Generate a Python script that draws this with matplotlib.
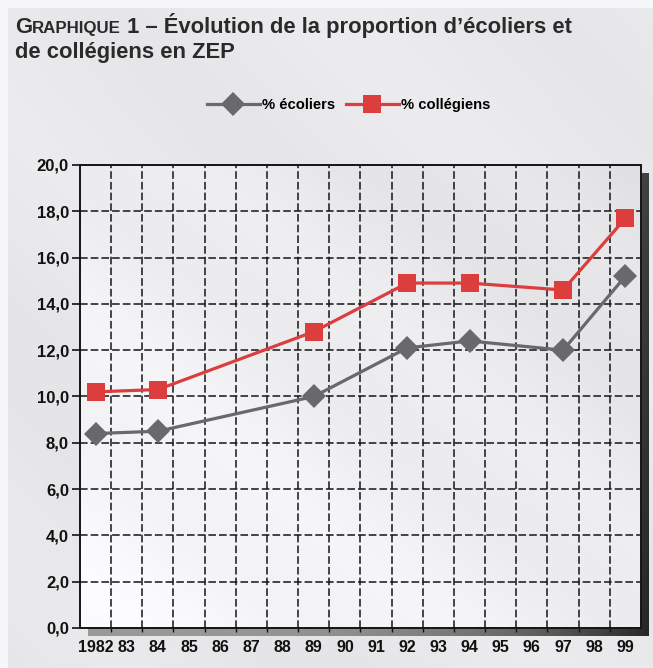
import matplotlib
matplotlib.use('Agg')
import matplotlib.pyplot as plt
import numpy as np

plt.rcParams['font.family'] = ['Liberation Sans', 'DejaVu Sans']

# data
year_labels = ['1982', '83', '84', '85', '86', '87', '88', '89', '90',
               '91', '92', '93', '94', '95', '96', '97', '98', '99']
survey_years = ['1982', '84', '89', '92', '94', '97', '99']
pct_ecoliers = [8.4, 8.5, 10.0, 12.1, 12.4, 12.0, 15.2]
pct_collegiens = [10.2, 10.3, 12.8, 14.9, 14.9, 14.6, 17.7]
y_ticks = [0, 2, 4, 6, 8, 10, 12, 14, 16, 18, 20]
series_names = ['% écoliers', '% collégiens']

GREY = '#68686d'
RED = '#dc3e3e'
INK = '#2a2a2a'

W, H = 653, 668
fig = plt.figure(figsize=(W / 100, H / 100), dpi=100)
fig.patch.set_facecolor('#f6f7fb')

# page panel
gy, gx = np.mgrid[0:1:300j, 0:1:300j]
t = (gx + gy) / 2
page = 0.915 + 0.01 * np.sin(t * 19) - 0.012 * (1 - gx) * (1 - gy)
page_rgb = np.dstack([page, page - 0.004, page + 0.006]).clip(0, 1)
bg = fig.add_axes([8 / W, 0, 1 - 8 / W, 1 - 8 / H], zorder=-10)
bg.imshow(page_rgb, origin='lower', aspect='auto', extent=(0, 1, 0, 1))
bg.axis('off')

# drop shadow of the plot area
left, bottom, width, height = 80 / W, 1 - 628 / H, 561 / W, 463 / H
sh = fig.add_axes([left + 8 / W, bottom - 8 / H, width, height], zorder=0)
shade = 0.70 - 0.45 * gx ** 3 - 0.10 * (1 - gy)
sh.imshow(np.dstack([shade] * 3).clip(0, 1), origin='lower', aspect='auto',
          extent=(0, 1, 0, 1))
sh.axis('off')

ax = fig.add_axes([left, bottom, width, height], zorder=1)
area = 0.985 - 0.10 * t + 0.01 * np.sin(t * 23)
area_rgb = np.dstack([area, area - 0.002, area + 0.01]).clip(0, 1)
ax.imshow(area_rgb, origin='lower', aspect='auto',
          extent=(-0.5, len(year_labels) - 0.5, 0, 20), zorder=0,
          interpolation='bilinear')

xpos = [year_labels.index(y) for y in survey_years]
l1, = ax.plot(xpos, pct_ecoliers, color=GREY, lw=2.3, marker='D', ms=12.5,
              mew=0, zorder=3)
l2, = ax.plot(xpos, pct_collegiens, color=RED, lw=2.3, marker='s', ms=12.5,
              mew=0, zorder=4)

ax.set_xlim(-0.5, len(year_labels) - 0.5)
ax.set_ylim(0, 20)
ax.set_xticks(range(len(year_labels)))
ax.set_xticklabels(year_labels, fontsize=11.5, fontweight='bold', color='#111')
ax.set_xticks(np.arange(0.5, len(year_labels) - 1, 1), minor=True)
ax.set_yticks(y_ticks)
ax.set_yticklabels([f'{v:.1f}'.replace('.', ',') for v in y_ticks],
                   fontsize=12, fontweight='bold', color='#111')
ax.tick_params(axis='x', which='major', length=0, pad=9)
ax.tick_params(axis='x', which='minor', length=3, width=1, color='#111')
ax.tick_params(axis='y', length=6, width=1.2, pad=2, color='#111')

dash = (0, (5, 2))
ax.grid(axis='y', which='major', color='#151515', lw=1.1, ls=dash, zorder=1.5)
ax.grid(axis='x', which='minor', color='#151515', lw=1.1, ls=dash, zorder=1.5)
for s in ax.spines.values():
    s.set_color('#151515')
    s.set_linewidth(1.4)

fig.legend(handles=[l1, l2], labels=series_names, loc='center',
           bbox_to_anchor=(348.5 / W, 1 - 105 / H), ncol=2, frameon=False,
           prop={'weight': 'bold', 'size': 10.6}, handlelength=3.6,
           handletextpad=0.15, columnspacing=0.75, borderpad=0)

# title with small caps on GRAPHIQUE
renderer = fig.canvas.get_renderer()


def put(s, size, x, y):
    txt = fig.text(x / W, y / H, s, fontsize=size, fontweight='bold',
                   color=INK, ha='left', va='baseline')
    return txt.get_window_extent(renderer).x1


x = put('G', 15.8, 15, H - 33)
x = put('RAPHIQUE', 12.2, x, H - 33)
put(' 1 – Évolution de la proportion d’écoliers et', 15.8, x, H - 33)
put('de collégiens en ZEP', 15.8, 15, H - 58)

fig.savefig('out.png', dpi=100)
